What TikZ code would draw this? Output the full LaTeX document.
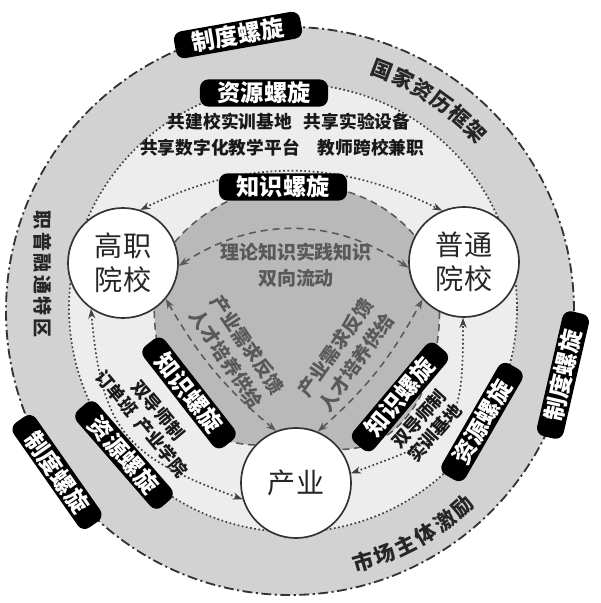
\documentclass[tikz,border=0pt]{standalone}
\usepackage{fontspec}
\setmainfont{Noto Sans CJK SC}
\usepackage{tikz}
\usetikzlibrary{arrows.meta}
\pgfdeclarelayer{bg}
\pgfsetlayers{bg,main}

\begin{document}
\begin{tikzpicture}[x=0.025cm, y=0.025cm,
    >={Stealth[length=7pt,width=5pt]},
    school/.style={circle, draw=black!80, line width=1.2pt, fill=white,
      minimum size=2.75cm, inner sep=0pt, align=center, text=black!85,
      font=\fontsize{20}{24}\selectfont},
    spiral/.style={fill=black, text=white, rounded corners=6pt,
      minimum width=3.2cm, minimum height=0.68cm, inner sep=0pt,
      font=\bfseries\fontsize{16.5}{16.5}\selectfont},
    kline/.style={draw=black!65, line width=1.1pt, dash pattern=on 5pt off 3.5pt},
    rline/.style={draw=black!75, line width=1.2pt, dash pattern=on 1.2pt off 1.8pt},
    note/.style={font=\bfseries\fontsize{12.6}{15}\selectfont, text=black!90, inner sep=1pt},
    flow/.style={font=\bfseries\fontsize{13.5}{18}\selectfont, text=black!65,
      align=center, inner sep=1pt},
    arcchar/.style={font=\bfseries\fontsize{15}{15}\selectfont, text=black!85, inner sep=0pt}
  ]
  \useasboundingbox (0,0) rectangle (600,-603);

  % three actors
  \node[school] (gz) at (123,-263) {高职\\院校};
  \node[school] (pt) at (464,-262) {普通\\院校};
  \node[school] (cy) at (296,-483) {产业};

  \begin{pgfonlayer}{bg}
    \fill[gray!35] (290,-311) circle (284);
    \draw[black!80, line width=1.3pt, dash pattern=on 7pt off 2.5pt on 1.5pt off 2.5pt]
      (290,-311) circle (284);
    \fill[gray!14] (293,-308) circle (224);
    \draw[rline] (293,-308) circle (224);
    \fill[gray!55] (gz.22) to[out=50,in=130] (pt.152) -- (pt.center) -- (pt.-116)
      to[out=-90,in=0] (cy.37) -- (cy.center) -- (cy.137)
      to[out=180,in=-90] (gz.-56) -- (gz.center) -- cycle;
  \end{pgfonlayer}

  % knowledge spiral
  \draw[kline] (gz.22) to[out=50,in=130] (pt.152);
  \draw[kline] (pt.-116) to[out=-90,in=0] (cy.37);
  \draw[kline] (cy.137) to[out=180,in=-90] (gz.-56);
  \draw[kline,<->] (gz.-3) to[bend left=34] (pt.186);
  \draw[kline,<->] (gz.-40) to[bend right=10] (cy.111);
  \draw[kline,<->] (cy.67) to[bend right=10] (pt.-138);

  % resource spiral
  \draw[rline,<->] (gz.72) to[bend left=26] (pt.113);
  \draw[rline,<->] (gz.-125) to[out=-85,in=160,looseness=1.3] (cy.-163);
  \draw[rline,<->] (cy.10) to[out=20,in=-90,looseness=1.5] (pt.-91);

  \node[flow] (k1) at (296,-265) {理论知识实践知识\\双向流动};
  \node[flow, rotate=-56] (k2) at (237,-352) {产业需求反馈\\人才培养供给};
  \node[flow, rotate=55] (k3) at (346,-355) {产业需求反馈\\人才培养供给};

  \node[note] (r1) at (230,-122) {共建校实训基地};
  \node[note] (r2) at (357,-122) {共享实验设备};
  \node[note] (r3) at (220,-148) {共享数字化教学平台};
  \node[note] (r4) at (371,-148) {教师跨校兼职};
  \node[note, rotate=-50, align=center] (r5) at (150,-417) {双导师制\\订单班\ \ 产业学院};
  \node[note, rotate=48, align=center] (r6) at (427,-426) {双导师制\\实训基地};

  % spiral labels
  \node[spiral, rotate=10] (zd1) at (238,-35) {制度螺旋};
  \node[spiral, rotate=-55] (zd2) at (57,-472) {制度螺旋};
  \node[spiral, rotate=77] (zd3) at (563,-375) {制度螺旋};
  \node[spiral] (zy1) at (264,-93) {资源螺旋};
  \node[spiral, rotate=-49] (zy2) at (124,-455) {资源螺旋};
  \node[spiral, rotate=60] (zy3) at (482,-422) {资源螺旋};
  \node[spiral] (zs1) at (283,-187) {知识螺旋};
  \node[spiral, rotate=-52] (zs2) at (189,-393) {知识螺旋};
  \node[spiral, rotate=50] (zs3) at (400,-397) {知识螺旋};

  % ring texts
  \foreach \ch [count=\i] in {国,家,资,历,框,架} {
    \pgfmathsetmacro{\a}{74-5*\i}
    \node[arcchar, rotate=\a-90] (gj\i) at ([shift={(290,-311)}]\a:258) {\ch};
  }
  \foreach \ch [count=\i] in {市,场,主,体,激,励} {
    \pgfmathsetmacro{\a}{-78.8+5.04*\i}
    \node[arcchar, rotate=\a+90] (sc\i) at ([shift={(290,-311)}]\a:261) {\ch};
  }
  \node[arcchar, rotate=-90, font=\bfseries\fontsize{13.5}{14}\selectfont\addfontfeature{LetterSpace=13}]
    (tq) at (43,-274) {职普融通特区};
\end{tikzpicture}
\end{document}
